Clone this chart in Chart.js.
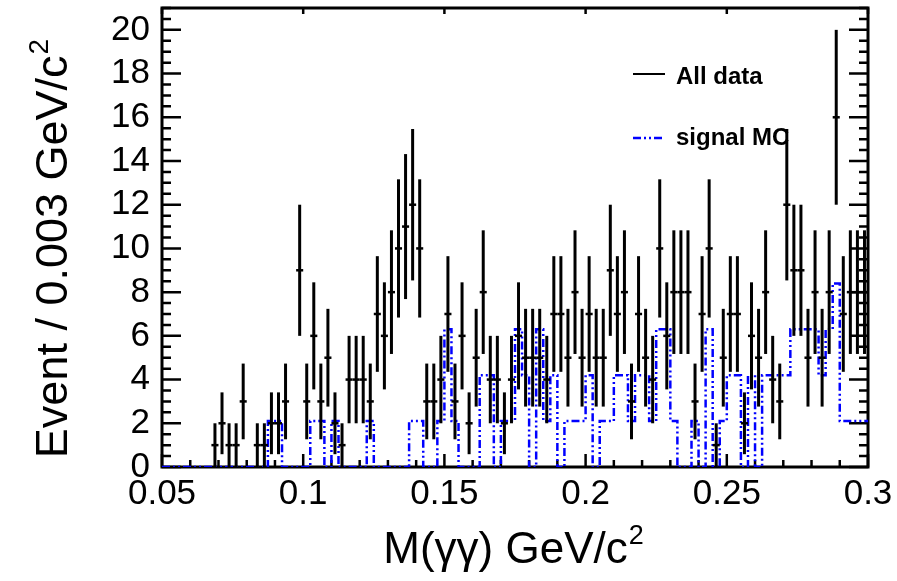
<!DOCTYPE html>
<html>
<head>
<meta charset="utf-8">
<script src="https://cdn.jsdelivr.net/npm/chart.js@4.4.0/dist/chart.umd.min.js"></script>
<style>
  html, body { margin: 0; padding: 0; background: #fff; }
  #wrap { width: 897px; height: 581px; }
</style>
</head>
<body>
<div id="wrap"><canvas id="c" width="897" height="581"></canvas></div>
<script>
// Histogram binning of M(γγ)
const xMin = 0.05;
const xMax = 0.3;
const binWidth = 0.0025;

// Events per bin, all data (100 bins from 0.05 to 0.3)
const dataCounts = [
  0, 0, 0, 0, 0, 0, 0, 1, 2, 1,
  1, 3, 0, 1, 1, 2, 2, 3, 0, 9,
  3, 6, 3, 5, 2, 1, 4, 4, 4, 3,
  7, 6, 8, 10, 11, 12, 10, 3, 3, 4,
  7, 3, 6, 2, 5, 8, 4, 4, 2, 4,
  6, 5, 5, 5, 4, 7, 7, 5, 8, 5,
  7, 5, 5, 9, 7, 8, 3, 7, 5, 4,
  10, 6, 8, 8, 8, 3, 7, 10, 1, 5,
  7, 7, 2, 6, 5, 8, 4, 3, 12, 9,
  9, 5, 8, 5, 8, 16, 7, 8, 8, 8
];

// Normalised signal MC per bin
const mcValues = [
  0, 0, 0, 0, 0, 0, 0, 0, 0, 0,
  0, 0, 0, 0, 0, 2.1, 2.1, 0, 0, 0,
  0, 2.1, 2.1, 0, 2.1, 0, 0, 0, 0, 2.1,
  0, 0, 0, 0, 0, 2.1, 2.1, 0, 0, 2.1,
  6.3, 2.1, 0, 0, 0, 4.2, 4.2, 0, 2.1, 2.1,
  6.3, 4.2, 0, 6.3, 2.1, 4.2, 0, 2.1, 2.1, 2.1,
  4.2, 0, 2.1, 2.1, 4.2, 4.2, 2.1, 4.2, 4.2, 2.1,
  6.3, 6.3, 2.1, 0, 0, 2.1, 0, 6.3, 0, 2.1,
  4.2, 4.2, 0, 4.2, 0, 4.2, 4.2, 4.2, 4.2, 6.3,
  6.3, 6.3, 6.3, 4.2, 6.3, 8.4, 2.1, 2.1, 2.1, 2.1
];

const xTickValues = [0.05, 0.1, 0.15, 0.2, 0.25, 0.3];
const xTickLabels = ['0.05', '0.1', '0.15', '0.2', '0.25', '0.3'];
const yTickValues = [0, 2, 4, 6, 8, 10, 12, 14, 16, 18, 20];
const yTickLabels = ['0', '2', '4', '6', '8', '10', '12', '14', '16', '18', '20'];
const legendLabels = ['All data', 'signal MC'];
// Axis titles: main text plus superscript
const xTitle = ['M(γγ) GeV/c', '2'];
const yTitle = ['Event / 0.003 GeV/c', '2'];

// Points for the step histogram: low edge of each bin plus the upper edge
const mcPoints = mcValues.map((v, i) => ({ x: xMin + i * binWidth, y: v }));
mcPoints.push({ x: xMax, y: mcValues[mcValues.length - 1] });

// Data points at bin centres (empty bins are not drawn)
const dataPoints = [];
dataCounts.forEach((n, i) => {
  if (n > 0) dataPoints.push({ x: xMin + (i + 0.5) * binWidth, y: n });
});

const FONT = '"Liberation Sans", Arial, Helvetica, sans-serif';
const MC_DASH = [8, 3, 2, 3, 2, 3];

function labelFor(values, labels, v) {
  const k = values.findIndex(t => Math.abs(t - v) < 1e-9);
  return k >= 0 ? labels[k] : '';
}

// Frame with inward ticks on all four sides
const framePlugin = {
  id: 'frame',
  beforeDatasetsDraw(chart) {
    const { ctx, chartArea: a, scales: { x, y } } = chart;
    ctx.save();
    ctx.strokeStyle = '#000';
    ctx.lineCap = 'butt';

    // x ticks: majors every 0.05, minors every 0.01
    ctx.lineWidth = 2.5;
    const xStepMinor = 0.01;
    for (let v = xMin; v <= xMax + 1e-9; v += xStepMinor) {
      const px = x.getPixelForValue(v);
      const major = xTickValues.some(t => Math.abs(t - v) < 1e-6);
      const len = major ? 13 : 7;
      ctx.beginPath();
      ctx.moveTo(px, a.bottom);
      ctx.lineTo(px, a.bottom - len);
      ctx.stroke();
      if (major) {
        ctx.beginPath();
        ctx.moveTo(px, a.top);
        ctx.lineTo(px, a.top + 6);
        ctx.stroke();
      }
    }

    // y ticks: majors every 2, minors every 0.5
    const yStepMinor = 0.5;
    for (let v = 0; v <= y.max + 1e-9; v += yStepMinor) {
      const py = y.getPixelForValue(v);
      const major = yTickValues.some(t => Math.abs(t - v) < 1e-6);
      const len = major ? 19 : 9;
      ctx.beginPath();
      ctx.moveTo(a.left, py);
      ctx.lineTo(a.left + len, py);
      ctx.moveTo(a.right, py);
      ctx.lineTo(a.right - len, py);
      ctx.stroke();
    }

    ctx.lineWidth = 3;
    ctx.strokeRect(a.left, a.top, a.right - a.left, a.bottom - a.top);
    ctx.restore();
  }
};

// Vertical sqrt(N) error bars on the data points
const errorBarPlugin = {
  id: 'errorBars',
  afterDatasetsDraw(chart) {
    const { ctx, chartArea: a, scales: { x, y } } = chart;
    ctx.save();
    ctx.beginPath();
    ctx.rect(a.left, a.top, a.right - a.left, a.bottom - a.top);
    ctx.clip();
    ctx.strokeStyle = '#000';
    ctx.lineWidth = 3;
    dataPoints.forEach(p => {
      const err = Math.sqrt(p.y);
      const px = x.getPixelForValue(p.x);
      ctx.beginPath();
      ctx.moveTo(px, y.getPixelForValue(p.y - err));
      ctx.lineTo(px, y.getPixelForValue(p.y + err));
      ctx.stroke();
    });
    ctx.restore();
  }
};

// Title text with a raised superscript, centred on (cx, baseline)
function drawSupTitle(ctx, parts, cx, baseline, angle, size) {
  const supSize = Math.round(size * 0.62);
  ctx.save();
  ctx.translate(cx, baseline);
  ctx.rotate(angle);
  ctx.fillStyle = '#000';
  ctx.textBaseline = 'alphabetic';
  ctx.textAlign = 'left';
  ctx.font = size + 'px ' + FONT;
  const wMain = ctx.measureText(parts[0]).width;
  ctx.font = supSize + 'px ' + FONT;
  const wSup = ctx.measureText(parts[1]).width;
  const x0 = -(wMain + wSup) / 2;
  ctx.font = size + 'px ' + FONT;
  ctx.fillText(parts[0], x0, 0);
  ctx.font = supSize + 'px ' + FONT;
  ctx.fillText(parts[1], x0 + wMain + 1, -size * 0.43);
  ctx.restore();
}

// Axis titles and legend inside the frame, upper right
const textPlugin = {
  id: 'texts',
  afterDraw(chart) {
    const { ctx, chartArea: a } = chart;
    drawSupTitle(ctx, xTitle, (a.left + a.right) / 2 - 2, 563, 0, 44);
    drawSupTitle(ctx, yTitle, 67, 249, -Math.PI / 2, 45);

    ctx.save();
    ctx.font = 'bold 24px ' + FONT;
    ctx.fillStyle = '#000';
    ctx.textBaseline = 'alphabetic';
    ctx.textAlign = 'left';

    ctx.strokeStyle = '#000';
    ctx.lineWidth = 2;
    ctx.beginPath();
    ctx.moveTo(633, 74);
    ctx.lineTo(665, 74);
    ctx.stroke();
    ctx.fillText(legendLabels[0], 676, 84);

    ctx.strokeStyle = '#0000ff';
    ctx.lineWidth = 2.5;
    ctx.setLineDash(MC_DASH);
    ctx.beginPath();
    ctx.moveTo(633, 138);
    ctx.lineTo(665, 138);
    ctx.stroke();
    ctx.setLineDash([]);
    ctx.fillText(legendLabels[1], 676, 145);
    ctx.restore();
  }
};

new Chart(document.getElementById('c'), {
  data: {
    datasets: [
      {
        type: 'scatter',
        label: legendLabels[0],
        data: dataPoints,
        showLine: false,
        pointStyle: 'line',
        rotation: 0,
        radius: (ctx) => {
          const s = ctx.chart.scales.x;
          return (s.getPixelForValue(xMin + binWidth) - s.getPixelForValue(xMin)) / 2;
        },
        borderColor: '#000',
        backgroundColor: '#000',
        borderWidth: 2.5
      },
      {
        type: 'line',
        label: legendLabels[1],
        data: mcPoints,
        stepped: true,
        borderColor: '#0000ff',
        borderWidth: 2.5,
        borderDash: MC_DASH,
        pointRadius: 0,
        fill: false
      }
    ]
  },
  options: {
    responsive: false,
    animation: false,
    devicePixelRatio: 1,
    layout: { padding: { left: 0, right: 29, top: 8, bottom: 0 } },
    plugins: {
      legend: { display: false },
      tooltip: { enabled: false }
    },
    scales: {
      x: {
        type: 'linear',
        position: 'bottom',
        min: xMin,
        max: xMax,
        grid: { display: false, drawTicks: false },
        border: { display: false },
        ticks: {
          stepSize: 0.05,
          padding: 6,
          maxRotation: 0,
          autoSkip: false,
          includeBounds: false,
          color: '#000',
          font: { family: FONT, size: 35 },
          callback: (v) => labelFor(xTickValues, xTickLabels, v)
        },
        title: { display: false },
        afterFit: (s) => { s.height = 114; s.paddingLeft = 0; s.paddingRight = 0; }
      },
      y: {
        type: 'linear',
        position: 'left',
        min: 0,
        max: 21,
        grid: { display: false, drawTicks: false },
        border: { display: false },
        ticks: {
          stepSize: 2,
          padding: 12,
          autoSkip: false,
          includeBounds: false,
          color: '#000',
          font: { family: FONT, size: 35 },
          callback: (v) => labelFor(yTickValues, yTickLabels, v)
        },
        title: { display: false },
        afterFit: (s) => { s.width = 162; s.paddingTop = 0; s.paddingBottom = 0; }
      }
    }
  },
  plugins: [framePlugin, errorBarPlugin, textPlugin]
});
</script>
</body>
</html>
